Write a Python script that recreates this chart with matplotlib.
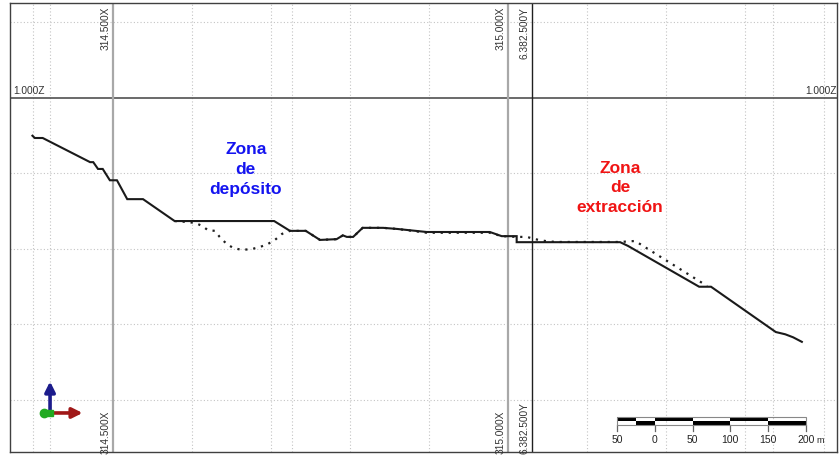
import matplotlib
matplotlib.use("Agg")
import matplotlib.pyplot as plt
from matplotlib.patches import Rectangle

plt.rcParams['font.family'] = ['Liberation Sans', 'DejaVu Sans']

# ---- data (easting m, elevation m) ----
# modified profile (solid)
solid_x = [314398, 314401, 314411, 314471, 314475, 314481, 314487, 314496, 314505,
           314518, 314538, 314578, 314704, 314724, 314744, 314762, 314783, 314791,
           314796, 314804, 314816, 314842, 314860, 314897, 314977, 314992, 315011,
           315011, 315142, 315152, 315242, 315257, 315339, 315351, 315361, 315372]
solid_z = [950, 947, 947, 915, 915, 906, 906, 891, 891,
           866, 866, 837, 837, 824, 824, 812, 813, 818,
           816, 816, 828, 828, 826.5, 822.5, 822.5, 817, 817,
           809, 809, 804, 750, 750, 690, 687, 683, 677]
# original topography (dotted)
orig_x = [314578, 314591, 314604, 314613, 314620, 314629, 314635, 314644, 314652,
          314663, 314676, 314686, 314696, 314705, 314714, 314724, 314744, 314762,
          314783, 314791, 314796, 314804, 314816, 314842, 314860, 314897, 314977,
          314992, 315011, 315024, 315034, 315047, 315060, 315142, 315161, 315252]
orig_z = [837, 836, 834.5, 830.5, 825, 824, 816, 806.5, 801.5,
          798.7, 800, 802.6, 806.6, 812, 820, 824, 824, 812,
          813, 818, 816, 816, 828, 828, 826.5, 821.5, 821.5,
          817, 816, 816, 813, 810.6, 809.3, 809.3, 810.6, 751]

grid_x = [314399, 314420, 314600, 314700, 314727, 314800, 314900,
          315100, 315200, 315300, 315335, 315400]
grid_z = [1100, 900, 800, 700, 600]
section_x = [314500, 315000]
section_x_labels = ['314.500X', '315.000X']
y_line_x = 315030
y_line_label = '6.382.500Y'
z_ref = 1000
z_label = '1.000Z'

scale_labels = ['50', '0', '50', '100', '150', '200']
zone1 = 'Zona\nde\ndepósito'
zone2 = 'Zona\nde\nextracción'

# ---- figure ----
W, H = 839, 456
fig = plt.figure(figsize=(W / 100, H / 100), dpi=100)
ax = fig.add_axes([10 / W, 3 / H, 827 / W, 449 / H])
x0, x1 = 314369.6, 315416.5
z0, z1 = 531.1, 1125.8
ax.set_xlim(x0, x1)
ax.set_ylim(z0, z1)
ax.set_xticks([])
ax.set_yticks([])
for s in ax.spines.values():
    s.set_color('#404040')
    s.set_linewidth(1.0)

gc = '#c4c4c4'
for gx in grid_x:
    ax.axvline(gx, color=gc, lw=0.8, ls=(0, (1, 2)), zorder=1)
for gz in grid_z:
    ax.axhline(gz, color=gc, lw=0.8, ls=(0, (1, 2)), zorder=1)

ax.axhline(z_ref, color='#505050', lw=1.2, zorder=2)
for sx in section_x:
    ax.axvline(sx, color='#a8a8a8', lw=1.6, zorder=2)
ax.axvline(y_line_x, color='#202020', lw=1.0, zorder=2)

lab_col = '#333333'
fs = 7.3
for sx, lab in zip(section_x, section_x_labels):
    ax.annotate(lab, xy=(sx, 1), xycoords=('data', 'axes fraction'),
                xytext=(-1.5, -2.0), textcoords='offset points',
                rotation=90, ha='right', va='top', fontsize=fs, color=lab_col)
    ax.annotate(lab, xy=(sx, 0), xycoords=('data', 'axes fraction'),
                xytext=(-1.5, -1), textcoords='offset points',
                rotation=90, ha='right', va='bottom', fontsize=fs, color=lab_col)
ax.annotate(y_line_label, xy=(y_line_x, 1), xycoords=('data', 'axes fraction'),
            xytext=(-1.5, -2.0), textcoords='offset points',
            rotation=90, ha='right', va='top', fontsize=fs, color=lab_col)
ax.annotate(y_line_label, xy=(y_line_x, 0), xycoords=('data', 'axes fraction'),
            xytext=(-1.5, -1), textcoords='offset points',
            rotation=90, ha='right', va='bottom', fontsize=fs, color=lab_col)

ax.annotate(z_label, xy=(0, z_ref), xycoords=('axes fraction', 'data'),
            xytext=(2.5, 2.5), textcoords='offset points',
            ha='left', va='bottom', fontsize=fs, color=lab_col)
ax.annotate(z_label, xy=(1, z_ref), xycoords=('axes fraction', 'data'),
            xytext=(0, 2.5), textcoords='offset points',
            ha='right', va='bottom', fontsize=fs, color=lab_col)

# profiles
ax.plot(orig_x, orig_z, color='#202020', lw=1.6, ls=(0, (1, 2.6)), zorder=4)
ax.plot(solid_x, solid_z, color='#1a1a1a', lw=1.5, zorder=5,
        solid_joinstyle='miter')

# zone labels
ax.text(314668, 906.6, zone1, color='#1414f0', fontsize=12.5, fontweight='bold',
        ha='center', va='center', linespacing=1.38)
ax.text(315142, 882.1, zone2, color='#f01414', fontsize=12.5, fontweight='bold',
        ha='center', va='center', linespacing=1.38)

# scale bar
sb_x0 = 315138.0
unit = 47.8  # data length of 50 m on the bar
zt, zm, zb = 577.5, 572.2, 566.9
edges = [sb_x0 + i * unit for i in range(6)]
half = sb_x0 + unit / 2
top_black = [(sb_x0, half), (edges[1], edges[2]), (edges[3], edges[4])]
bot_black = [(half, edges[1]), (edges[2], edges[3]), (edges[4], edges[5])]
for a, b in top_black:
    ax.add_patch(Rectangle((a, zm), b - a, zt - zm, color='black', lw=0, zorder=6))
for a, b in bot_black:
    ax.add_patch(Rectangle((a, zb), b - a, zm - zb, color='black', lw=0, zorder=6))
ax.add_patch(Rectangle((sb_x0, zb), edges[5] - sb_x0, zt - zb, fill=False,
                       ec='#888888', lw=0.8, zorder=7))
for e, lab in zip(edges, scale_labels):
    ax.plot([e, e], [zb, 558.9], color='#666666', lw=0.9, zorder=6)
    ax.text(e, 548.4, lab, ha='center', va='center', fontsize=7.5, color='#222222')
ax.text(edges[5] + 13, 547.5, 'm', ha='left', va='center', fontsize=6.5, color='#222222')

# axis triad
ox, oz = 314420.3, 582.8
ax.annotate('', xy=(ox, 624.5), xytext=(ox, oz),
            arrowprops=dict(arrowstyle='-|>,head_width=0.3,head_length=0.6',
                            lw=2.6, color='#1c1c8c', shrinkA=0, shrinkB=0), zorder=8)
ax.annotate('', xy=(314461.5, oz), xytext=(ox, oz),
            arrowprops=dict(arrowstyle='-|>,head_width=0.3,head_length=0.6',
                            lw=2.6, color='#a01818', shrinkA=0, shrinkB=0), zorder=8)
ax.plot([314412.5], [oz], 'o', color='#22aa22', ms=6, zorder=9)
ax.plot([ox], [oz], 's', color='#22aa22', ms=5, zorder=9)

fig.savefig('out.png', dpi=100)
